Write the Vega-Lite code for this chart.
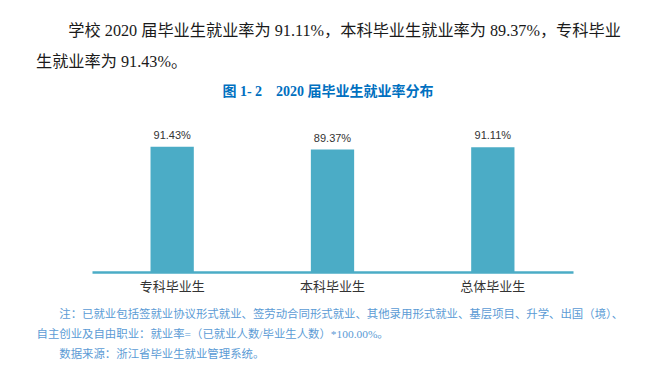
{
  "$schema": "https://vega.github.io/schema/vega-lite/v6.json",
  "width": 481,
  "height": 137,
  "autosize": {"type": "none"},
  "padding": {"left": 92, "top": 135, "right": 95, "bottom": 103},
  "background": "white",
  "title": {
    "text": ["\u200b\u3000\u3000学校 2020 届毕业生就业率为 91.11%，本科毕业生就业率为 89.37%，专科毕业", "生就业率为 91.43%。"],
    "anchor": "start",
    "frame": "group",
    "dx": -56,
    "baseline": "bottom",
    "offset": -2,
    "font": "Liberation Serif, Noto Sans CJK SC",
    "fontSize": 16.2,
    "fontWeight": "normal",
    "color": "#1a1a1a",
    "lineHeight": 31
  },
  "data": {
    "values": [
      {"category": "专科毕业生", "rate": 0.9143},
      {"category": "本科毕业生", "rate": 0.8937},
      {"category": "总体毕业生", "rate": 0.9111}
    ]
  },
  "config": {
    "view": {"stroke": null},
    "axis": {"grid": false}
  },
  "resolve": {"axis": {"x": "independent"}},
  "layer": [
    {
      "mark": {"type": "bar", "color": "#4BACC6"},
      "encoding": {
        "x": {
          "field": "category",
          "type": "nominal",
          "sort": null,
          "scale": {"paddingInner": 0.73, "paddingOuter": 0.365},
          "axis": {
            "orient": "bottom",
            "labelAngle": 0,
            "ticks": false,
            "tickSize": 0,
            "labelPadding": 8,
            "labelFont": "Noto Sans CJK SC",
            "labelFontSize": 13,
            "labelColor": "#333333",
            "domainColor": "#4BACC6",
            "domainWidth": 2.5,
            "title": ["\u200b\u3000\u3000注：已就业包括签就业协议形式就业、签劳动合同形式就业、其他录用形式就业、基层项目、升学、出国（境）、", "自主创业及自由职业：就业率=（已就业人数/毕业生人数）*100.00%。", "\u200b\u3000\u3000数据来源：浙江省毕业生就业管理系统。"],
            "titleX": -56,
            "titleY": 36.5,
            "titleAlign": "left",
            "titleAnchor": "start",
            "titleBaseline": "top",
            "titleFont": "Liberation Serif, Noto Sans CJK SC",
            "titleFontSize": 11.4,
            "titleFontWeight": "normal",
            "titleColor": "#5B9BD5",
            "titleLineHeight": 20
          }
        },
        "y": {
          "field": "rate",
          "type": "quantitative",
          "scale": {"domain": [0, 1]},
          "axis": null
        }
      }
    },
    {
      "mark": {"type": "text", "baseline": "middle", "dy": -11, "font": "Liberation Sans", "fontSize": 11, "color": "#333333"},
      "encoding": {
        "x": {
          "field": "category",
          "type": "nominal",
          "sort": null,
          "axis": {
            "orient": "top",
            "labels": false,
            "ticks": false,
            "domain": false,
            "title": "图 1- 2\u30002020 届毕业生就业率分布",
            "titleX": 235.5,
            "titleY": -44,
            "titleAlign": "center",
            "titleBaseline": "middle",
            "titleFont": "Liberation Serif, Noto Sans CJK SC",
            "titleFontSize": 14,
            "titleFontWeight": "bold",
            "titleColor": "#0070C0"
          }
        },
        "y": {"field": "rate", "type": "quantitative"},
        "text": {"field": "rate", "type": "quantitative", "format": ".2%"}
      }
    }
  ]
}
